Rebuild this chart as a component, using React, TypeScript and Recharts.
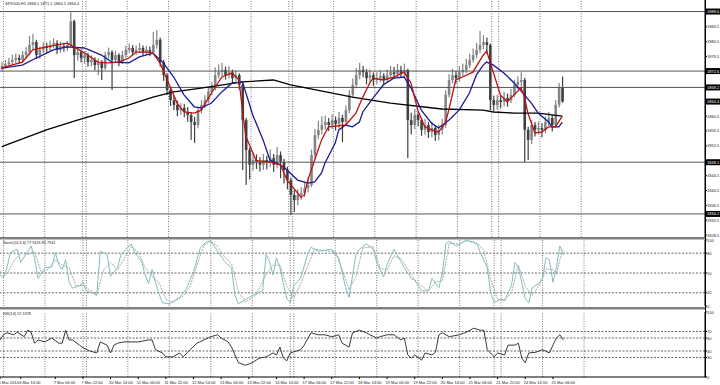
import React from 'react';
import { ComposedChart, Bar, Line, XAxis, YAxis, ReferenceLine } from 'recharts';

const FONT = '"Liberation Sans", Arial, sans-serif';
const W = 720;
const SLOTS = 205;

// SPX500 H1 bars
const opens = [
  1873.2, 1874.0, 1874.5, 1875.0, 1875.6, 1876.1, 1875.6, 1876.9, 1877.7, 1879.6,
  1880.4, 1876.9, 1878.3, 1879.1, 1878.8, 1879.6, 1880.1, 1878.3, 1879.3, 1878.8,
  1879.6, 1886.0, 1876.9, 1877.7, 1876.1, 1876.9, 1875.0, 1875.6, 1874.2, 1874.8,
  1873.4, 1876.9, 1877.7, 1875.6, 1876.9, 1875.0, 1876.9, 1878.3, 1878.8, 1877.7,
  1878.3, 1878.8, 1877.7, 1878.3, 1877.7, 1879.6, 1881.0, 1875.0, 1871.5, 1867.5,
  1864.8, 1863.5, 1862.1, 1862.7, 1861.6, 1860.8, 1858.9, 1858.1, 1862.1, 1863.5,
  1864.8, 1867.0, 1868.1, 1871.5, 1872.3, 1872.9, 1871.5, 1872.3, 1870.7, 1871.5,
  1868.9, 1859.4, 1851.4, 1847.4, 1848.7, 1848.2, 1847.4, 1848.7, 1847.9, 1849.2,
  1847.4, 1850.0, 1848.2, 1846.0, 1843.3, 1839.3, 1837.9, 1839.3, 1839.8, 1841.2,
  1842.0, 1850.0, 1855.4, 1856.8, 1858.1, 1858.9, 1858.1, 1859.4, 1858.4, 1860.0,
  1858.9, 1862.1, 1866.2, 1868.9, 1871.5, 1872.9, 1872.3, 1870.7, 1871.5, 1870.2,
  1870.7, 1871.3, 1870.2, 1871.5, 1872.3, 1871.8, 1872.9, 1872.1, 1872.9, 1859.4,
  1858.1, 1860.8, 1859.4, 1856.8, 1858.1, 1856.2, 1857.3, 1855.4, 1856.8, 1858.1,
  1866.2, 1870.2, 1871.5, 1870.7, 1872.3, 1872.9, 1874.2, 1875.6, 1876.9, 1878.3,
  1879.6, 1880.4, 1879.6, 1864.8, 1863.5, 1864.8, 1864.3, 1865.4, 1864.8, 1866.2,
  1868.9, 1869.7, 1870.2, 1856.8, 1854.1, 1858.1, 1856.8, 1857.3, 1856.8, 1858.9,
  1860.0, 1858.1, 1863.5, 1868.1,
];
const highs = [
  1875.0, 1875.6, 1876.2, 1877.0, 1877.3, 1877.0, 1878.0, 1879.0, 1882.0, 1882.6,
  1881.0, 1879.2, 1880.3, 1880.2, 1880.8, 1881.4, 1880.9, 1880.5, 1880.2, 1880.7,
  1888.4, 1886.4, 1879.0, 1878.4, 1878.0, 1877.5, 1876.8, 1876.3, 1876.0, 1875.5,
  1877.8, 1878.9, 1878.2, 1878.1, 1877.4, 1878.0, 1879.4, 1880.0, 1879.6, 1879.5,
  1880.1, 1879.5, 1879.4, 1879.2, 1883.1, 1883.6, 1881.6, 1875.6, 1872.1, 1868.4,
  1866.0, 1864.6, 1864.0, 1863.8, 1862.9, 1861.5, 1860.3, 1863.0, 1864.8, 1866.1,
  1868.3, 1869.6, 1873.6, 1874.4, 1874.8, 1873.8, 1873.9, 1873.0, 1872.8, 1872.0,
  1869.5, 1860.0, 1852.0, 1850.6, 1850.2, 1849.5, 1850.3, 1849.8, 1851.6, 1850.3,
  1852.2, 1851.0, 1849.0, 1846.9, 1844.0, 1840.6, 1840.9, 1841.4, 1842.8, 1844.1,
  1851.5, 1857.0, 1859.2, 1860.4, 1860.6, 1860.0, 1861.0, 1860.4, 1861.6, 1860.8,
  1863.4, 1867.5, 1870.6, 1873.4, 1874.8, 1874.0, 1873.1, 1873.0, 1872.2, 1872.3,
  1872.8, 1872.0, 1873.0, 1874.0, 1873.7, 1874.5, 1874.0, 1874.6, 1873.2, 1861.4,
  1862.4, 1861.8, 1860.1, 1859.7, 1858.9, 1858.8, 1858.0, 1858.2, 1859.8, 1867.4,
  1871.8, 1873.2, 1872.6, 1873.9, 1874.6, 1875.9, 1877.3, 1878.7, 1880.2, 1883.4,
  1882.2, 1881.6, 1880.0, 1866.0, 1866.2, 1866.0, 1867.0, 1866.6, 1867.8, 1870.3,
  1871.2, 1872.3, 1870.8, 1857.6, 1859.4, 1858.9, 1859.0, 1858.6, 1860.4, 1861.6,
  1860.8, 1864.8, 1869.4, 1871.1,
];
const lows = [
  1872.5, 1873.2, 1873.8, 1874.3, 1874.8, 1874.6, 1874.9, 1876.0, 1876.8, 1878.5,
  1875.8, 1875.9, 1877.4, 1877.6, 1877.9, 1878.7, 1877.2, 1877.5, 1877.8, 1878.0,
  1878.9, 1870.7, 1875.4, 1874.9, 1874.6, 1873.8, 1873.9, 1872.8, 1871.5, 1870.2,
  1872.9, 1876.0, 1867.5, 1874.8, 1873.9, 1874.5, 1876.2, 1877.5, 1876.8, 1876.9,
  1877.6, 1876.7, 1876.9, 1876.6, 1877.0, 1878.6, 1873.8, 1870.0, 1866.2, 1863.2,
  1862.1, 1860.5, 1860.8, 1860.2, 1859.0, 1854.1, 1853.3, 1857.2, 1861.2, 1862.6,
  1864.0, 1866.1, 1867.4, 1870.6, 1871.2, 1870.3, 1870.6, 1869.4, 1869.8, 1867.6,
  1846.0, 1842.0, 1843.5, 1845.8, 1846.3, 1845.6, 1846.0, 1846.2, 1846.8, 1845.5,
  1846.5, 1843.8, 1842.4, 1840.8, 1833.9, 1834.7, 1836.5, 1838.0, 1838.8, 1840.0,
  1841.4, 1849.2, 1854.3, 1855.6, 1856.9, 1856.5, 1857.0, 1856.6, 1857.2, 1853.5,
  1858.0, 1861.3, 1865.4, 1868.0, 1870.4, 1870.9, 1869.0, 1869.5, 1868.6, 1869.0,
  1869.6, 1868.7, 1869.4, 1870.6, 1870.5, 1870.9, 1870.8, 1871.0, 1849.2, 1855.6,
  1857.0, 1857.8, 1855.2, 1855.5, 1854.6, 1854.8, 1853.8, 1854.0, 1855.5, 1857.4,
  1865.5, 1869.3, 1869.2, 1869.8, 1871.2, 1872.0, 1873.4, 1874.9, 1876.0, 1877.4,
  1878.5, 1877.2, 1862.1, 1861.8, 1862.2, 1862.6, 1863.1, 1863.0, 1864.0, 1865.6,
  1867.8, 1868.4, 1848.2, 1848.7, 1853.0, 1855.0, 1855.6, 1854.8, 1855.9, 1857.8,
  1856.4, 1857.5, 1862.8, 1864.1,
];
const closes = [
  1874.0, 1874.5, 1875.0, 1875.6, 1876.1, 1875.6, 1876.9, 1877.7, 1879.6, 1880.4,
  1876.9, 1878.3, 1879.1, 1878.8, 1879.6, 1880.1, 1878.3, 1879.3, 1878.8, 1879.6,
  1886.0, 1876.9, 1877.7, 1876.1, 1876.9, 1875.0, 1875.6, 1874.2, 1874.8, 1873.4,
  1876.9, 1877.7, 1875.6, 1876.9, 1875.0, 1876.9, 1878.3, 1878.8, 1877.7, 1878.3,
  1878.8, 1877.7, 1878.3, 1877.7, 1879.6, 1881.0, 1875.0, 1871.5, 1867.5, 1864.8,
  1863.5, 1862.1, 1862.7, 1861.6, 1860.8, 1858.9, 1858.1, 1862.1, 1863.5, 1864.8,
  1867.0, 1868.1, 1871.5, 1872.3, 1872.9, 1871.5, 1872.3, 1870.7, 1871.5, 1868.9,
  1859.4, 1851.4, 1847.4, 1848.7, 1848.2, 1847.4, 1848.7, 1847.9, 1849.2, 1847.4,
  1850.0, 1848.2, 1846.0, 1843.3, 1839.3, 1837.9, 1839.3, 1839.8, 1841.2, 1842.0,
  1850.0, 1855.4, 1856.8, 1858.1, 1858.9, 1858.1, 1859.4, 1858.4, 1860.0, 1858.9,
  1862.1, 1866.2, 1868.9, 1871.5, 1872.9, 1872.3, 1870.7, 1871.5, 1870.2, 1870.7,
  1871.3, 1870.2, 1871.5, 1872.3, 1871.8, 1872.9, 1872.1, 1872.9, 1859.4, 1858.1,
  1860.8, 1859.4, 1856.8, 1858.1, 1856.2, 1857.3, 1855.4, 1856.8, 1858.1, 1866.2,
  1870.2, 1871.5, 1870.7, 1872.3, 1872.9, 1874.2, 1875.6, 1876.9, 1878.3, 1879.6,
  1880.4, 1879.6, 1864.8, 1863.5, 1864.8, 1864.3, 1865.4, 1864.8, 1866.2, 1868.9,
  1869.7, 1870.2, 1856.8, 1854.1, 1858.1, 1856.8, 1857.3, 1856.8, 1858.9, 1860.0,
  1858.1, 1863.5, 1868.1, 1864.4,
];

// moving averages, [bar, value]
const fastMA = [
  [0, 1873.4], [1, 1873.7], [6, 1875.0], [9, 1878.3], [13, 1879.1], [19, 1880.1], [21, 1879.1], [25, 1876.9],
  [28, 1875.0], [31, 1874.8], [34, 1875.0], [37, 1876.1], [39, 1877.7], [42, 1877.7], [44, 1877.4],
  [46, 1874.8], [49, 1868.3], [51, 1864.0], [53, 1861.6], [56, 1861.3], [58, 1862.1], [61, 1866.7],
  [64, 1871.0], [67, 1872.1], [69, 1870.2], [70, 1862.0], [71, 1855.0], [74, 1848.5], [78, 1848.2],
  [81, 1847.4], [83, 1843.3], [87, 1838.7], [88, 1839.3], [89, 1843.3], [91, 1848.7], [93, 1854.1],
  [95, 1857.6], [100, 1858.1], [103, 1861.3], [105, 1865.6], [107, 1869.4], [108, 1870.7],
  [111, 1870.2], [114, 1871.0], [117, 1872.3], [119, 1869.4], [121, 1862.1], [123, 1857.6],
  [125, 1856.8], [127, 1856.2], [129, 1858.6], [130, 1862.1], [132, 1870.2], [134, 1871.0],
  [137, 1872.3], [140, 1876.9], [141, 1878.0], [143, 1872.1], [145, 1866.2], [147, 1864.3],
  [149, 1866.2], [151, 1868.1], [152, 1865.6], [153, 1861.3], [155, 1856.0], [157, 1856.2],
  [159, 1857.6], [161, 1857.6], [163, 1860.5],
];
const slowMA = [
  [0, 1873.4], [1, 1873.5], [6, 1874.2], [10, 1876.1], [15, 1878.3], [19, 1879.1], [24, 1878.8], [29, 1876.9],
  [32, 1875.0], [37, 1874.8], [40, 1876.4], [44, 1877.4], [47, 1874.8], [50, 1871.0], [53, 1866.2],
  [56, 1863.0], [58, 1862.7], [61, 1864.0], [64, 1867.0], [67, 1869.4], [70, 1869.7], [73, 1860.8],
  [76, 1854.1], [78, 1848.7], [81, 1847.4], [83, 1846.0], [86, 1843.3], [89, 1842.5], [91, 1842.8],
  [93, 1845.2], [94, 1847.9], [97, 1853.3], [98, 1856.8], [100, 1858.1], [102, 1857.6],
  [104, 1858.9], [105, 1861.6], [108, 1865.4], [111, 1868.9], [114, 1870.7], [117, 1871.0],
  [119, 1868.1], [122, 1862.1], [125, 1858.6], [127, 1857.3], [130, 1859.4], [133, 1862.1],
  [136, 1866.7], [138, 1871.5], [140, 1874.2], [141, 1875.0], [143, 1874.2], [146, 1872.1],
  [149, 1869.4], [152, 1866.2], [154, 1864.0], [156, 1861.3], [159, 1858.9], [160, 1857.6],
  [162, 1857.6], [163, 1858.9],
];
const longMA = [
  [0, 1852.2], [1, 1852.6], [13, 1856.8], [22, 1859.4], [37, 1863.5], [44, 1865.6], [50, 1867.0], [58, 1868.0],
  [70, 1869.7], [79, 1870.2], [84, 1868.9], [102, 1865.6], [113, 1864.0], [128, 1862.4],
  [140, 1862.1], [143, 1861.6], [149, 1861.3], [156, 1861.3], [163, 1860.5],
];

// Stochastic(14,3,3)
const stochMain = [
  [0, 47], [1, 42], [2, 58], [3, 81], [5, 86], [6, 66], [8, 83], [9, 91], [10, 73], [11, 42], [12, 50],
  [13, 58], [15, 59], [16, 81], [17, 63], [18, 55], [19, 70], [20, 36], [21, 27], [23, 31], [24, 36],
  [25, 23], [27, 19], [28, 16], [29, 83], [31, 78], [32, 45], [34, 58], [35, 78], [37, 89], [38, 94],
  [39, 81], [41, 67], [42, 47], [43, 34], [44, 55], [45, 36], [46, 19], [47, 5], [49, 3], [52, 13],
  [54, 27], [56, 52], [58, 89], [60, 98], [61, 98], [63, 83], [65, 67], [67, 58], [68, 16], [69, 3],
  [72, 13], [76, 23], [77, 78], [78, 67], [79, 47], [80, 73], [81, 58], [83, 11], [84, 5], [85, 31],
  [87, 42], [89, 78], [90, 89], [92, 83], [96, 86], [97, 78], [98, 73], [100, 28], [101, 13],
  [103, 78], [104, 86], [106, 94], [108, 86], [109, 66], [111, 44], [112, 63], [114, 86], [116, 67],
  [117, 58], [119, 42], [120, 39], [122, 23], [124, 23], [125, 42], [127, 28], [128, 50], [129, 94],
  [130, 98], [132, 91], [134, 97], [135, 100], [138, 94], [139, 81], [141, 58], [142, 20], [143, 5],
  [145, 11], [146, 8], [148, 31], [149, 66], [150, 59], [152, 11], [153, 5], [154, 28], [156, 34],
  [157, 42], [158, 73], [159, 70], [160, 36], [161, 58], [162, 91], [163, 78],
];
const stochSignal = [
  [0, 52], [1, 50], [2, 48], [4, 68], [6, 80], [8, 78], [10, 82], [12, 50], [14, 56], [16, 70], [18, 62],
  [20, 58], [22, 30], [24, 32], [26, 24], [28, 18], [30, 55], [32, 66], [34, 55], [36, 72], [38, 90],
  [40, 82], [42, 58], [44, 45], [46, 35], [48, 10], [50, 6], [53, 15], [55, 30], [57, 62], [59, 92],
  [61, 98], [63, 90], [65, 74], [67, 64], [69, 22], [71, 6], [74, 16], [77, 48], [79, 62], [81, 62],
  [83, 30], [85, 12], [87, 34], [89, 60], [91, 86], [94, 84], [97, 82], [99, 55], [101, 25],
  [103, 45], [105, 88], [108, 90], [110, 58], [112, 54], [114, 76], [116, 72], [118, 56], [120, 40],
  [122, 30], [124, 23], [126, 36], [128, 38], [130, 95], [133, 94], [135, 99], [138, 96], [140, 84],
  [142, 40], [144, 10], [146, 9], [148, 20], [150, 62], [152, 30], [154, 16], [156, 31], [158, 56],
  [160, 55], [161, 48], [162, 70], [163, 86],
];

// RSI(14)
const rsiLine = [
  [0, 57], [1, 65], [2, 68], [4, 65], [5, 69], [7, 62], [8, 72], [9, 69], [10, 52], [11, 57], [13, 54],
  [15, 60], [17, 52], [18, 52], [19, 72], [20, 57], [21, 57], [23, 49], [24, 45], [26, 40], [28, 37],
  [29, 54], [31, 49], [32, 37], [33, 49], [34, 52], [36, 54], [38, 54], [40, 54], [43, 57], [44, 57],
  [45, 42], [47, 37], [48, 31], [50, 31], [52, 37], [53, 31], [55, 42], [57, 52], [59, 57], [61, 62],
  [63, 65], [64, 60], [66, 54], [67, 46], [69, 22], [71, 18], [73, 22], [75, 29], [77, 31], [79, 37],
  [80, 34], [81, 46], [82, 29], [83, 25], [84, 37], [87, 42], [88, 49], [90, 68], [92, 65], [94, 65],
  [96, 62], [98, 65], [99, 52], [101, 46], [102, 68], [104, 72], [106, 68], [107, 65], [109, 60],
  [110, 62], [112, 65], [114, 65], [116, 57], [117, 60], [118, 34], [119, 29], [120, 34], [122, 26],
  [123, 37], [125, 34], [126, 38], [127, 65], [128, 68], [130, 62], [133, 65], [135, 69], [137, 75],
  [139, 72], [140, 72], [141, 42], [143, 31], [144, 37], [146, 34], [147, 49], [149, 49], [150, 52],
  [151, 29], [152, 22], [153, 37], [155, 38], [157, 42], [159, 37], [160, 49], [161, 60], [162, 65],
  [163, 57],
];

const priceTicks = [1884.5, 1880.5, 1876.5, 1860.5, 1856.5, 1852.5, 1844.5, 1840.5, 1836.5, 1832.5, 1828.5];
const levelLines = [1888.6, 1872.6, 1868.2, 1848.1, 1834.2];
const lastPrice = 1864.4;
const stochTicks = [0, 20, 50, 80, 100];
const stochLevels = [20, 50, 80];
const rsiTicks = [0, 30, 40, 60, 70, 100];
const rsiLevels = [30, 40, 60, 70];
const gridBars = [1, 13, 25, 37, 49, 61, 73, 85, 97, 109, 121, 133, 145, 157, 169];
const sepBars = [24, 84, 143];
const labelBars = [0, 6, 16, 24, 32, 40, 48, 56, 64, 72, 80, 88, 96, 104, 112, 120, 128, 136, 144, 152, 160];
const labelTexts = [
  '6 Mar 2014', '6 Mar 14:00', '7 Mar 06:00', '7 Mar 22:00', '10 Mar 14:00', '11 Mar 06:00',
  '11 Mar 22:00', '12 Mar 14:00', '13 Mar 06:00', '13 Mar 22:00', '14 Mar 14:00', '17 Mar 06:00',
  '17 Mar 22:00', '18 Mar 14:00', '19 Mar 06:00', '19 Mar 22:00', '20 Mar 14:00', '21 Mar 06:00',
  '21 Mar 22:00', '24 Mar 14:00', '25 Mar 06:00',
];

const rows: any[] = Array.from({ length: SLOTS }, (_, i) => ({
  i,
  o: opens[i] ?? null,
  h: highs[i] ?? null,
  l: lows[i] ?? null,
  c: closes[i] ?? null,
  fast: null, slow: null, long: null, sm: null, ss: null, rsi: null,
}));
const put = (pts: number[][], key: string) => pts.forEach(([b, v]) => { rows[b][key] = v; });
put(fastMA, 'fast');
put(slowMA, 'slow');
put(longMA, 'long');
put(stochMain, 'sm');
put(stochSignal, 'ss');
put(rsiLine, 'rsi');

const Candle = (props: any) => {
  const { x, y, width, height, payload } = props;
  if (!payload || payload.h == null || !isFinite(y)) return <g />;
  const top = Math.min(y, y + height);
  const hgt = Math.abs(height);
  const k = hgt / (payload.h - payload.l || 1);
  const yo = top + (payload.h - payload.o) * k;
  const yc = top + (payload.h - payload.c) * k;
  const cx = x + width / 2;
  const col = payload.c >= payload.o ? '#858585' : '#404040';
  return (
    <g>
      <rect x={cx - 0.6} y={top} width={1.2} height={Math.max(hgt, 1)} fill={col} />
      <rect x={cx - 1.3} y={Math.min(yo, yc)} width={2.6} height={Math.max(Math.abs(yc - yo), 1)} fill={col} />
    </g>
  );
};

const axisText = (y: number, t: string, hi: boolean) => (
  <g>
    {hi && <rect x={705.5} y={y - 3} width={14.5} height={6} fill="#000" />}
    <text x={707} y={y + 1.5} fontSize={4} fontFamily={FONT} fill={hi ? '#fff' : '#222'}>{t}</text>
  </g>
);

const PriceTick = (props: any) => {
  const v = props.payload.value;
  const hi = levelLines.includes(v) || v === lastPrice;
  return axisText(props.y, v.toFixed(1), hi);
};
const PlainTick = (props: any) => axisText(props.y, String(props.payload.value), false);

const XTick = (props: any) => {
  const k = labelBars.indexOf(props.payload.value);
  return (
    <text x={props.x - 1.5} y={76} fontSize={4} fontFamily={FONT} fill="#222">{labelTexts[k]}</text>
  );
};

const noDot = () => <g />;

const vGrid = () => [...gridBars, ...sepBars].map((b) => (
  <ReferenceLine key={'g' + b} x={b} position="start" stroke="#7a7a7a" strokeDasharray="1 1.5" />
));

export default function App() {
  return (
    <div style={{ position: 'absolute', left: 0, top: 0, width: W, height: 385, background: '#fff', overflow: 'hidden' }}>
      <div style={{ position: 'absolute', left: 0, top: 0 }}>
        <ComposedChart width={W} height={238} data={rows} margin={{ top: 0, right: 0, bottom: 1, left: 0 }}>
          <XAxis dataKey="i" hide />
          <YAxis orientation="right" width={15} domain={[1828, 1891.7]} allowDataOverflow
            ticks={[...priceTicks, ...levelLines, lastPrice]} interval={0} tick={PriceTick}
            tickSize={2} tickLine={{ stroke: '#000' }} axisLine={{ stroke: '#000' }} />
          {vGrid()}
          {levelLines.map((v) => <ReferenceLine key={v} y={v} stroke="#555" strokeWidth={1} />)}
          <Bar dataKey={(d: any) => (d.h == null ? null : [d.l, d.h])} shape={Candle} barSize={2} isAnimationActive={false} />
          <Line dataKey="long" stroke="#000" strokeWidth={1.3} dot={noDot} activeDot={false} connectNulls isAnimationActive={false} />
          <Line dataKey="slow" stroke="#1a1a96" strokeWidth={1.3} dot={noDot} activeDot={false} connectNulls isAnimationActive={false} />
          <Line dataKey="fast" stroke="#c01010" strokeWidth={1.3} dot={noDot} activeDot={false} connectNulls isAnimationActive={false} />
        </ComposedChart>
      </div>
      <div style={{ position: 'absolute', left: 0, top: 238 }}>
        <ComposedChart width={W} height={70} data={rows} margin={{ top: 2, right: 0, bottom: 2, left: 0 }}>
          <XAxis dataKey="i" hide />
          <YAxis orientation="right" width={15} domain={[0, 100]} ticks={stochTicks} interval={0}
            tick={PlainTick} tickSize={2} tickLine={{ stroke: '#000' }} axisLine={{ stroke: '#000' }} />
          {vGrid()}
          {stochLevels.map((v) => <ReferenceLine key={v} y={v} stroke="#666" strokeDasharray="2 1.5" />)}
          <Line dataKey="ss" stroke="#a8a8a8" strokeWidth={1} strokeDasharray="2 1" dot={noDot} activeDot={false} connectNulls isAnimationActive={false} />
          <Line dataKey="sm" stroke="#86bcbc" strokeWidth={1} dot={noDot} activeDot={false} connectNulls isAnimationActive={false} />
        </ComposedChart>
      </div>
      <div style={{ position: 'absolute', left: 0, top: 308 }}>
        <ComposedChart width={W} height={77} data={rows} margin={{ top: 4, right: 0, bottom: 0, left: 0 }}>
          <XAxis dataKey="i" height={8} ticks={labelBars} interval={0} tick={XTick} tickSize={2}
            tickLine={{ stroke: '#000' }} axisLine={{ stroke: '#000' }} />
          <YAxis orientation="right" width={15} domain={[0, 100]} ticks={rsiTicks} interval={0}
            tick={PlainTick} tickSize={2} tickLine={{ stroke: '#000' }} axisLine={{ stroke: '#000' }} />
          {vGrid()}
          {rsiLevels.map((v) => <ReferenceLine key={v} y={v} stroke="#666" strokeDasharray="2 1.5" />)}
          <Line dataKey="rsi" stroke="#3a3a3a" strokeWidth={1} dot={noDot} activeDot={false} connectNulls isAnimationActive={false} />
        </ComposedChart>
      </div>
      <svg width={W} height={385} style={{ position: 'absolute', left: 0, top: 0, pointerEvents: 'none' }}>
        <rect x={0} y={237} width={705} height={2.5} fill="#808080" />
        <rect x={0} y={307} width={705} height={2.5} fill="#808080" />
        <line x1={705.5} y1={0} x2={705.5} y2={377.5} stroke="#000" />
        <text x={5} y={5} fontSize={4} fontFamily={FONT} fill="#222">SPX500,H1  1868.1 1871.1 1864.1 1864.4</text>
        <text x={3} y={243.5} fontSize={3.8} fontFamily={FONT} fill="#222">Stoch(14,3,3) 77.9126 85.7941</text>
        <text x={3} y={315} fontSize={3.8} fontFamily={FONT} fill="#222">RSI(14) 57.1378</text>
      </svg>
    </div>
  );
}
